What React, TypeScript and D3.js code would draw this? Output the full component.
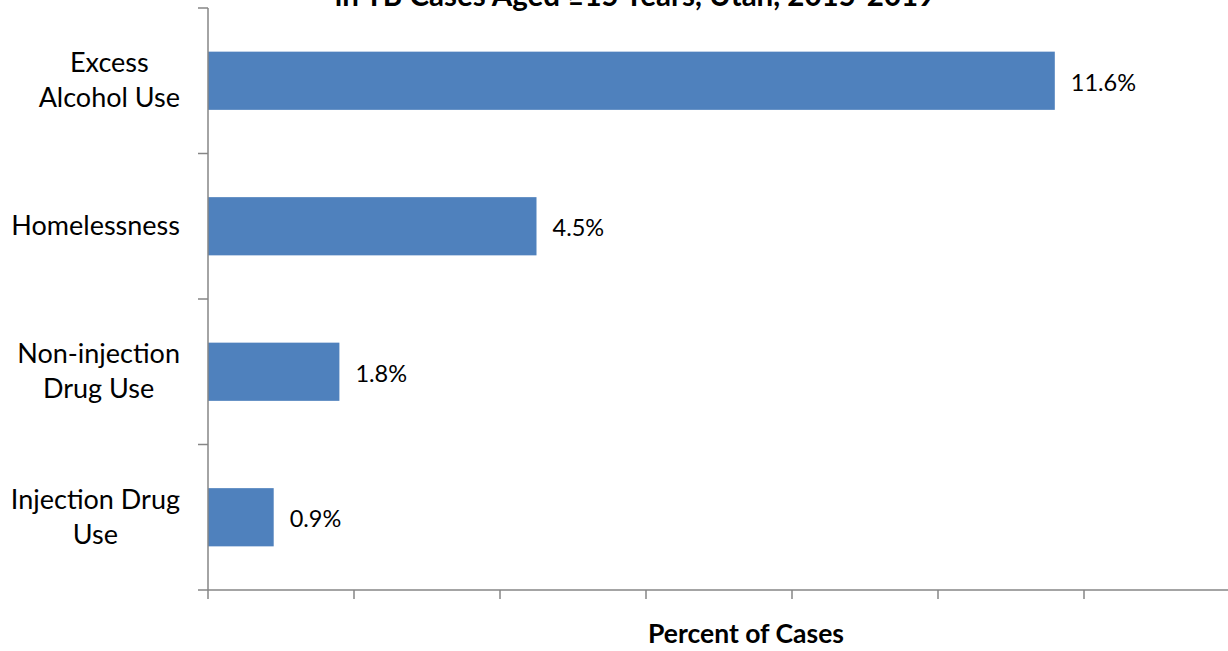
import React, { useEffect, useRef } from "react";
import * as d3 from "d3";

const categories = ["Excess Alcohol Use", "Homelessness", "Non-injection Drug Use", "Injection Drug Use"];
const categoryLines = [["Excess", "Alcohol Use"], ["Homelessness"], ["Non-injection", "Drug Use"], ["Injection Drug", "Use"]];
const values = [11.6, 4.5, 1.8, 0.9];
const valueLabels = ["11.6%", "4.5%", "1.8%", "0.9%"];
const xTicks = [0, 2, 4, 6, 8, 10, 12, 14];
const titleLine = "in TB Cases Aged \u226515 Years, Utah, 2015-2019";
const xAxisTitle = "Percent of Cases";

const W = 1228;
const H = 651;
const FONT = "Lato, 'Open Sans', sans-serif";

export default function App() {
  const ref = useRef<SVGSVGElement | null>(null);

  useEffect(() => {
    const svg = d3.select(ref.current);
    svg.selectAll("*").remove();

    const left = 208;
    const right = 1230;
    const top = 8;
    const bottom = 590;
    const axisColor = "#868686";

    const x = d3.scaleLinear().domain([0, 14]).range([left, right]);
    const y = d3.scaleBand<string>().domain(categories).range([top, bottom]).paddingInner(0.6).paddingOuter(0.3);

    // title (second line visible)
    svg.append("text")
      .attr("x", 635).attr("y", 6)
      .attr("text-anchor", "middle")
      .attr("font-family", FONT).attr("font-weight", "bold").attr("font-size", 29.5)
      .attr("fill", "#000")
      .text(titleLine);

    // bars
    svg.append("g").selectAll("rect").data(values).join("rect")
      .attr("x", x(0))
      .attr("y", (_d, i) => y(categories[i])!)
      .attr("width", (d) => x(d) - x(0))
      .attr("height", y.bandwidth())
      .attr("fill", "#4F81BD");

    // value labels
    svg.append("g").selectAll("text").data(values).join("text")
      .attr("x", (d) => x(d) + 16)
      .attr("y", (_d, i) => y(categories[i])! + y.bandwidth() / 2 + 10)
      .attr("font-family", FONT).attr("font-size", 23.5)
      .attr("fill", "#000")
      .text((_d, i) => valueLabels[i]);

    // axes
    const g = svg.append("g").attr("stroke", axisColor).attr("stroke-width", 1.5);
    g.append("line").attr("x1", left).attr("x2", left).attr("y1", top).attr("y2", bottom);
    g.append("line").attr("x1", left - 10).attr("x2", right).attr("y1", bottom).attr("y2", bottom);
    const step = y.step();
    for (let i = 0; i < categories.length; i++) {
      const yy = y(categories[i])! - step * y.paddingInner() / 2;
      g.append("line").attr("x1", left - 10).attr("x2", left).attr("y1", yy).attr("y2", yy);
    }
    xTicks.forEach((t) => {
      g.append("line").attr("x1", x(t)).attr("x2", x(t)).attr("y1", bottom).attr("y2", bottom + 9);
    });

    // category labels
    const lineH = 35;
    categoryLines.forEach((lines, i) => {
      const cy = y(categories[i])! + y.bandwidth() / 2;
      const tg = svg.append("g");
      const texts = lines.map((ln, j) =>
        tg.append("text")
          .attr("y", cy + (j - (lines.length - 1) / 2) * lineH + 9)
          .attr("font-family", FONT).attr("font-size", 27)
          .attr("fill", "#000")
          .attr("text-anchor", "middle")
          .text(ln)
      );
      const widths = texts.map((t) => (t.node() as SVGTextElement).getComputedTextLength());
      const maxW = Math.max(...widths);
      texts.forEach((t) => t.attr("x", 180 - maxW / 2));
    });

    // x axis title
    svg.append("text")
      .attr("x", 746).attr("y", 643)
      .attr("text-anchor", "middle")
      .attr("font-family", FONT).attr("font-weight", "bold").attr("font-size", 26.5)
      .attr("fill", "#000")
      .text(xAxisTitle);
  }, []);

  return (
    <div style={{ position: "absolute", left: 0, top: 0 }}>
      <svg ref={ref} width={W} height={H} style={{ display: "block", background: "#fff" }} />
    </div>
  );
}
